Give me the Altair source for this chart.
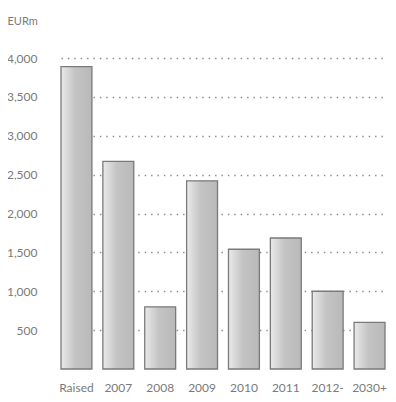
import altair as alt
import pandas as pd

categories = ["Raised\n2006", "2007", "2008", "2009", "2010", "2011", "2012-\n2030", "2030+"]
values = [3890, 2670, 800, 2420, 1540, 1685, 1000, 600]
y_ticks = [500, 1000, 1500, 2000, 2500, 3000, 3500, 4000]

df = pd.DataFrame({"cat": categories, "val": values})

grad = alt.Gradient(
    gradient="linear",
    x1=0, x2=1, y1=0, y2=0,
    stops=[
        alt.GradientStop(color="#eaeaea", offset=0),
        alt.GradientStop(color="#c4c4c4", offset=0.45),
        alt.GradientStop(color="#b9b9b9", offset=1),
    ],
)

font = "Lato"
txt = "#7a7a7a"

bars = alt.Chart(df).mark_bar(
    color=grad, stroke="#7a7a7a", strokeWidth=1.3
).encode(
    x=alt.X(
        "cat:N",
        sort=categories,
        scale=alt.Scale(range=[17, 341], paddingInner=0.262, paddingOuter=0),
        axis=alt.Axis(
            title=None, labelAngle=0, domain=False, ticks=False, grid=False,
            labelExpr="split(datum.label, '\\n')",
            labelFont=font, labelFontSize=12, labelColor=txt,
            labelPadding=13, labelLineHeight=12, labelBaseline="top",
        ),
    ),
    y=alt.Y(
        "val:Q",
        scale=alt.Scale(domain=[0, 4000]),
        axis=alt.Axis(
            values=y_ticks, format=",.0f", domain=False, ticks=False,
            grid=True, gridColor="#8a8a8a", gridDash=[1.4, 5], gridWidth=1.4,
            labelFont=font, labelFontSize=12, labelColor=txt, labelPadding=7,
            title="EURm", titleAngle=0, titleAlign="left", titleBaseline="alphabetic",
            titleX=-37, titleY=-34, titleFont=font, titleFontSize=11,
            titleFontWeight="normal", titleColor=txt,
        ),
    ),
).properties(
    width=344, height=311,
    background="white",
    autosize=alt.AutoSizeParams(type="none"),
    padding={"left": 36, "top": 50, "right": 0, "bottom": 25},
).configure_view(strokeWidth=0)

chart = bars
chart.save("out.html", embed_options={"renderer": "svg", "actions": False})
